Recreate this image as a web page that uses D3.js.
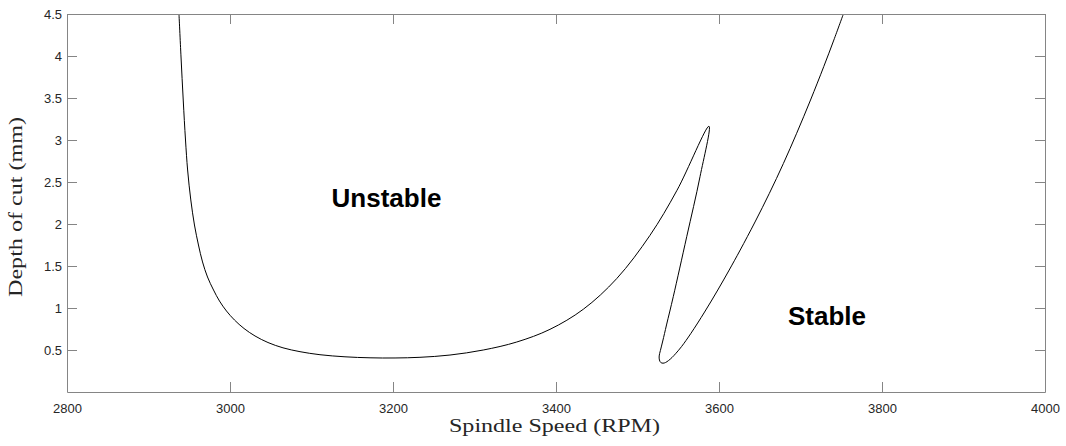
<!DOCTYPE html>
<html>
<head>
<meta charset="utf-8">
<script src="https://cdn.jsdelivr.net/npm/d3@7"></script>
<style>
  body { margin: 0; background: #fff; }
  #chart { width: 1066px; height: 446px; }
</style>
</head>
<body>
<div id="chart"></div>
<script>
// stability lobe, traced in order along the curve:
// left branch down, across the minimum, up to the cusp, down the inner edge, then up the right branch
let rpm = [2937.4, 2939.9, 2942.6, 2945.4, 2948.0, 2951.9, 2956.4, 2961.3, 2966.3, 2972.4, 2979.8, 2987.1, 2995.7, 3005.5, 3017.2, 3030.7, 3046.6, 3065.0, 3085.9, 3110.4, 3141.1, 3171.8, 3202.5, 3233.1, 3269.9, 3310.8, 3351.8, 3392.6, 3433.5, 3474.5, 3515.3, 3548.5, 3587.7,
           3576.7, 3560.4, 3543.9, 3535.6, 3531.0, 3528.1, 3526.6, 3526.9, 3528.6, 3531.3,
           3534.4, 3538.0, 3542.3, 3547.2, 3554.0, 3565.6, 3582.3, 3598.5, 3612.5, 3626.0, 3644.2, 3661.8, 3679.0, 3695.3, 3712.3, 3728.5, 3740.9, 3752.6]
let depth = [4.5, 3.988, 3.476, 3.0, 2.643, 2.286, 1.988, 1.75, 1.548, 1.369, 1.214, 1.083, 0.964, 0.857, 0.756, 0.667, 0.589, 0.526, 0.48, 0.444, 0.419, 0.407, 0.405, 0.413, 0.44, 0.5, 0.595, 0.746, 0.985, 1.35, 1.865, 2.402, 3.164,
             2.563, 1.849, 1.135, 0.798, 0.607, 0.494, 0.429, 0.381, 0.351, 0.343,
             0.351, 0.374, 0.41, 0.461, 0.54, 0.699, 0.952, 1.214, 1.452, 1.69, 2.024, 2.365, 2.72, 3.08, 3.476, 3.873, 4.19, 4.5]

let xTicks = [2800, 3000, 3200, 3400, 3600, 3800, 4000]
let yTicks = [0.5, 1, 1.5, 2, 2.5, 3, 3.5, 4, 4.5]

let svgWidth = 1066
let svgHeight = 446
let plotLeft = 67, plotTop = 14, plotRight = 1045, plotBottom = 392

let svg = d3.select('#chart')
    .append('svg')
        .attr('width', svgWidth)
        .attr('height', svgHeight)

let x = d3.scaleLinear().domain([2800, 4000]).range([plotLeft, plotRight])
let y = d3.scaleLinear().domain([0, 4.5]).range([plotBottom, plotTop])

svg.append('clipPath').attr('id', 'plotclip')
    .append('rect')
        .attr('x', plotLeft).attr('y', plotTop)
        .attr('width', plotRight - plotLeft).attr('height', plotBottom - plotTop)

let points = rpm.map((r, i) => [r, depth[i]])

let line = d3.line()
    .x(d => x(d[0]))
    .y(d => y(d[1]))
    .curve(d3.curveCatmullRom.alpha(0.5))

svg.append('path')
    .datum(points)
    .attr('d', line)
    .attr('fill', 'none')
    .attr('stroke', '#000')
    .attr('stroke-width', 1)
    .attr('clip-path', 'url(#plotclip)')

// axes, MATLAB style box with inward ticks
let axisColour = '#858585'
let tickColour = '#262626'

let bottomAxis = svg.append('g')
    .attr('transform', `translate(0, ${plotBottom})`)
    .call(d3.axisBottom(x).tickValues(xTicks).tickSizeInner(-10).tickSizeOuter(0).tickFormat(d3.format('d')))
svg.append('g')
    .attr('transform', `translate(0, ${plotTop})`)
    .call(d3.axisTop(x).tickValues(xTicks).tickSizeInner(-10).tickSizeOuter(0).tickFormat(''))
svg.append('g')
    .attr('transform', `translate(${plotLeft}, 0)`)
    .call(d3.axisLeft(y).tickValues(yTicks).tickSizeInner(-10).tickSizeOuter(0).tickPadding(5).tickFormat(d3.format('')))
svg.append('g')
    .attr('transform', `translate(${plotRight}, 0)`)
    .call(d3.axisRight(y).tickValues(yTicks).tickSizeInner(-10).tickSizeOuter(0).tickFormat(''))

svg.selectAll('.domain, .tick line')
    .attr('stroke', axisColour)
    .attr('stroke-width', 1)

svg.selectAll('.tick text')
    .attr('fill', tickColour)
    .style('font-family', 'Liberation Sans, Arial, sans-serif')
    .style('font-size', '13px')

bottomAxis.selectAll('.tick text').attr('dy', '0.71em').attr('y', 12)

// axis labels
svg.append('text')
    .attr('x', 554.5)
    .attr('y', 432)
    .attr('text-anchor', 'middle')
    .attr('textLength', 211)
    .attr('lengthAdjust', 'spacingAndGlyphs')
    .style('font-family', 'Liberation Serif, Times New Roman, serif')
    .style('font-size', '19px')
    .attr('fill', tickColour)
    .text('Spindle Speed (RPM)')

svg.append('text')
    .attr('transform', `translate(22, 207) rotate(-90)`)
    .attr('text-anchor', 'middle')
    .attr('textLength', 180)
    .attr('lengthAdjust', 'spacingAndGlyphs')
    .style('font-family', 'Liberation Serif, Times New Roman, serif')
    .style('font-size', '19px')
    .attr('fill', tickColour)
    .text('Depth of cut (mm)')

// region annotations
svg.append('text')
    .attr('x', x(3192))
    .attr('y', y(2.2))
    .attr('text-anchor', 'middle')
    .style('font-family', 'Liberation Sans, Arial, sans-serif')
    .style('font-size', '26px')
    .style('font-weight', 'bold')
    .attr('fill', '#000')
    .text('Unstable')

svg.append('text')
    .attr('x', x(3732.5))
    .attr('y', y(0.8))
    .attr('text-anchor', 'middle')
    .style('font-family', 'Liberation Sans, Arial, sans-serif')
    .style('font-size', '26px')
    .style('font-weight', 'bold')
    .attr('fill', '#000')
    .text('Stable')
</script>
</body>
</html>
